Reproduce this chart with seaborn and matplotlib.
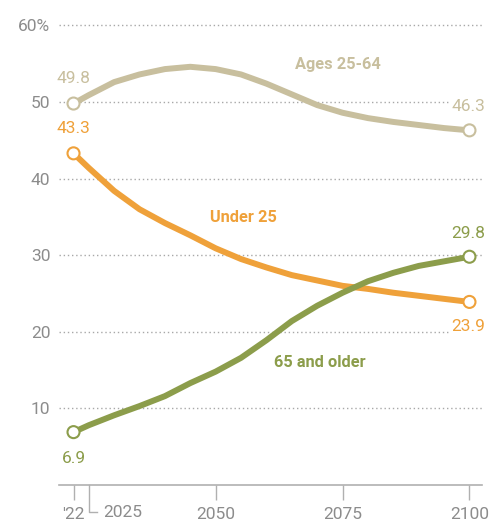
import pandas as pd
import seaborn as sns
import matplotlib.pyplot as plt
import matplotlib.transforms as mtransforms

# share of population by age group, percent
years = [2022, 2025, 2030, 2035, 2040, 2045, 2050, 2055, 2060,
         2065, 2070, 2075, 2080, 2085, 2090, 2095, 2100]
ages_25_64 = [49.8, 50.9, 52.6, 53.6, 54.3, 54.6, 54.3, 53.6, 52.4,
              51.0, 49.6, 48.6, 47.9, 47.4, 47.0, 46.6, 46.3]
under_25 = [43.3, 41.4, 38.4, 36.0, 34.2, 32.6, 30.9, 29.5, 28.4,
            27.4, 26.7, 26.0, 25.6, 25.1, 24.7, 24.3, 23.9]
older_65 = [6.9, 7.8, 9.1, 10.3, 11.6, 13.3, 14.8, 16.6, 18.9,
            21.4, 23.4, 25.1, 26.6, 27.7, 28.6, 29.2, 29.8]

groups = ["Ages 25-64", "Under 25", "65 and older"]
colors = {"Ages 25-64": "#C8BF9E", "Under 25": "#EFA13A", "65 and older": "#8C9D4B"}

xtick_vals = [2022, 2050, 2075, 2100]
xtick_labels = ["'22", "2050", "2075", "2100"]
ytick_vals = [10, 20, 30, 40, 50, 60]
ytick_labels = ["10", "20", "30", "40", "50", "60%"]

df = pd.DataFrame({
    "year": years * 3,
    "share": ages_25_64 + under_25 + older_65,
    "group": [g for g in groups for _ in years],
})
ends = df[df["year"].isin([years[0], years[-1]])]

plt.rcParams["font.family"] = ["Roboto", "DejaVu Sans"]
grey = "#8C8C8C"

fig = plt.figure(figsize=(4.9, 5.23), dpi=100)
ax = fig.add_axes([0.120, 0.0727, 0.864, 0.886])

for y in ytick_vals:
    ax.axhline(y, color="#A8A8A8", lw=1.0, ls=(0, (1, 2)), zorder=0)

sns.lineplot(data=df, x="year", y="share", hue="group", palette=colors,
             linewidth=4.3, legend=False, ax=ax, zorder=2)
for ln in ax.lines[len(ytick_vals):]:
    ln.set_solid_joinstyle("round")
    ln.set_solid_capstyle("round")
sns.scatterplot(data=ends, x="year", y="share", hue="group", palette=colors,
                ax=ax, legend=False, s=75, zorder=3)
# white fill with coloured ring
for coll in ax.collections:
    fc = coll.get_facecolors()
    coll.set_edgecolors(fc)
    coll.set_facecolors("white")
    coll.set_linewidths(1.5)

ax.set_xlim(2019.1, 2102.5)
ax.set_ylim(0, 60.5)
ax.set_xlabel("")
ax.set_ylabel("")

ax.set_yticks(ytick_vals)
ax.set_yticklabels(ytick_labels)
ax.tick_params(axis="y", length=0, pad=6, labelsize=12.5, labelcolor=grey)
ax.set_xticks(xtick_vals)
ax.set_xticklabels(xtick_labels)
ax.tick_params(axis="x", length=11, width=1, color="#B0B0B0", pad=5,
               labelsize=12.5, labelcolor=grey)

for s in ["top", "right", "left"]:
    ax.spines[s].set_visible(False)
ax.spines["bottom"].set_color("#B0B0B0")
ax.spines["bottom"].set_linewidth(1.2)

# bracket tick for 2025
tr = mtransforms.blended_transform_factory(ax.transData, ax.transAxes)
ax.plot([2025, 2025, 2026.6], [0, -0.058, -0.058], transform=tr,
        color="#B0B0B0", lw=1, clip_on=False)
ax.text(2027.9, -0.059, "2025", transform=tr, ha="left", va="center",
        fontsize=12.5, color=grey)

# endpoint values
box = dict(facecolor="white", edgecolor="none", pad=1.5)
for g in groups:
    sub = df[df["group"] == g]
    first, last = sub.iloc[0], sub.iloc[-1]
    dy_first = -3.4 if g == "65 and older" else 3.3
    dy_last = {"Ages 25-64": 3.1, "Under 25": -3.2, "65 and older": 3.0}[g]
    ax.text(first["year"], first["share"] + dy_first, f"{first['share']:.1f}",
            ha="center", va="center", fontsize=12.5, color=colors[g],
            bbox=box, zorder=1)
    ax.text(last["year"] - 0.3, last["share"] + dy_last, f"{last['share']:.1f}",
            ha="center", va="center", fontsize=12.5, color=colors[g],
            bbox=box, zorder=1)

# series labels
ax.text(2074, 54.9, "Ages 25-64", ha="center", va="center", fontsize=11.8,
        fontweight="bold", color=colors["Ages 25-64"])
ax.text(2055.5, 34.9, "Under 25", ha="center", va="center", fontsize=11.8,
        fontweight="bold", color=colors["Under 25"])
ax.text(2070.5, 16.0, "65 and older", ha="center", va="center", fontsize=11.8,
        fontweight="bold", color=colors["65 and older"])

fig.savefig("out.png", dpi=100)
